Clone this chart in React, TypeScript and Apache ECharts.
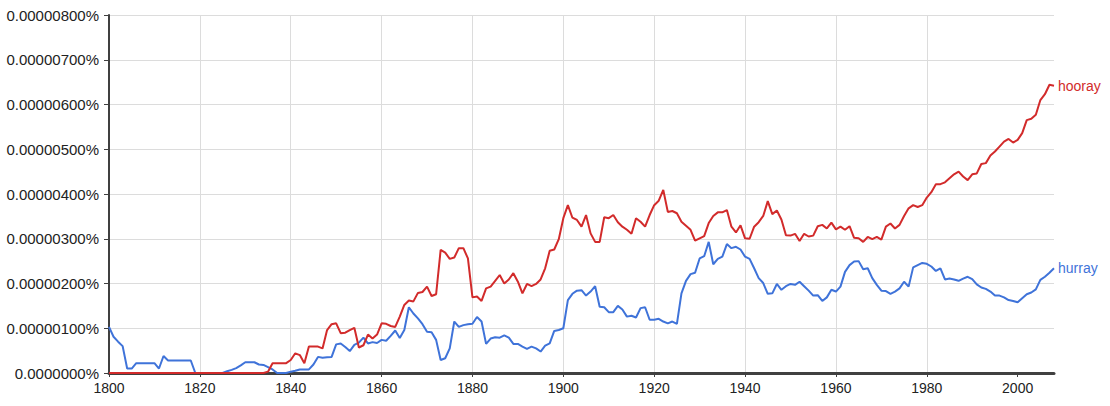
import React, { useEffect, useRef } from "react";
import * as echarts from "echarts";

// Google Ngram style: frequency in units of 0.000001 %
const FIRST_YEAR = 1800;
const LAST_YEAR = 2008;
const X_TICK_LABELS = [1800, 1820, 1840, 1860, 1880, 1900, 1920, 1940, 1960, 1980, 2000];
const SERIES_NAMES = ["hurray", "hooray"];

const hurray = [
  1.03, 0.81, 0.70, 0.60, 0.10, 0.10, 0.22, 0.22, 0.22, 0.22, // 1800
  0.22, 0.10, 0.38, 0.28, 0.28, 0.28, 0.28, 0.28, 0.28, 0.00, // 1810
  0.00, 0.00, 0.00, 0.00, 0.00, 0.00, 0.04, 0.07, 0.11, 0.17, // 1820
  0.24, 0.24, 0.24, 0.19, 0.18, 0.13, 0.08, 0.00, 0.00, 0.00, // 1830
  0.03, 0.05, 0.08, 0.08, 0.08, 0.19, 0.36, 0.34, 0.35, 0.36, // 1840
  0.64, 0.66, 0.58, 0.49, 0.63, 0.68, 0.79, 0.66, 0.69, 0.67, // 1850
  0.74, 0.72, 0.83, 0.95, 0.78, 0.96, 1.47, 1.33, 1.22, 1.09, // 1860
  0.92, 0.91, 0.74, 0.29, 0.33, 0.55, 1.15, 1.03, 1.07, 1.09, // 1870
  1.10, 1.25, 1.15, 0.65, 0.77, 0.80, 0.79, 0.84, 0.79, 0.65, // 1880
  0.65, 0.59, 0.54, 0.59, 0.55, 0.48, 0.61, 0.66, 0.94, 0.96, // 1890
  1.00, 1.63, 1.77, 1.84, 1.85, 1.73, 1.82, 1.94, 1.48, 1.47, // 1900
  1.36, 1.36, 1.50, 1.42, 1.26, 1.28, 1.24, 1.45, 1.47, 1.19, // 1910
  1.19, 1.21, 1.15, 1.11, 1.15, 1.10, 1.78, 2.06, 2.21, 2.24, // 1920
  2.56, 2.61, 2.93, 2.43, 2.55, 2.60, 2.88, 2.79, 2.82, 2.76, // 1930
  2.60, 2.55, 2.34, 2.12, 2.01, 1.77, 1.78, 1.99, 1.86, 1.94, // 1940
  1.99, 1.97, 2.04, 1.94, 1.84, 1.73, 1.74, 1.61, 1.69, 1.86, // 1950
  1.82, 1.93, 2.26, 2.41, 2.49, 2.50, 2.32, 2.34, 2.12, 1.97, // 1960
  1.84, 1.83, 1.77, 1.82, 1.89, 2.04, 1.93, 2.36, 2.41, 2.46, // 1970
  2.44, 2.38, 2.28, 2.34, 2.09, 2.11, 2.09, 2.06, 2.11, 2.15, // 1980
  2.10, 1.98, 1.91, 1.88, 1.82, 1.73, 1.73, 1.69, 1.63, 1.61, // 1990
  1.58, 1.67, 1.76, 1.80, 1.87, 2.08, 2.15, 2.24, 2.34,       // 2000
];

const hooray = [
  0, 0, 0, 0, 0, 0, 0, 0, 0, 0, // 1800
  0, 0, 0, 0, 0, 0, 0, 0, 0, 0, // 1810
  0, 0, 0, 0, 0, 0, 0, 0, 0, 0, // 1820
  0, 0, 0, 0, 0, 0.03, 0.22, 0.22, 0.22, 0.22, // 1830
  0.29, 0.44, 0.40, 0.22, 0.59, 0.59, 0.59, 0.55, 0.96, 1.09, // 1840
  1.11, 0.89, 0.90, 0.96, 1.01, 0.57, 0.62, 0.86, 0.77, 0.86, // 1850
  1.11, 1.10, 1.05, 1.03, 1.26, 1.52, 1.62, 1.60, 1.79, 1.81, // 1860
  1.93, 1.72, 1.76, 2.75, 2.69, 2.55, 2.58, 2.79, 2.79, 2.56, // 1870
  1.69, 1.71, 1.61, 1.89, 1.93, 2.06, 2.19, 2.00, 2.09, 2.23, // 1880
  2.04, 1.78, 1.99, 1.94, 1.99, 2.09, 2.34, 2.73, 2.76, 2.99, // 1890
  3.46, 3.75, 3.47, 3.42, 3.27, 3.53, 3.12, 2.93, 2.93, 3.48, // 1900
  3.46, 3.53, 3.37, 3.27, 3.20, 3.11, 3.46, 3.38, 3.27, 3.53, // 1910
  3.75, 3.85, 4.09, 3.60, 3.62, 3.57, 3.38, 3.29, 3.20, 2.96, // 1920
  3.01, 3.06, 3.35, 3.51, 3.59, 3.59, 3.64, 3.27, 3.14, 3.30, // 1930
  3.01, 3.00, 3.27, 3.37, 3.51, 3.84, 3.55, 3.63, 3.43, 3.08, // 1940
  3.07, 3.11, 2.95, 3.11, 3.05, 3.07, 3.28, 3.31, 3.23, 3.36, // 1950
  3.21, 3.27, 3.20, 3.28, 3.02, 3.01, 2.93, 3.04, 2.99, 3.04, // 1960
  2.98, 3.27, 3.34, 3.23, 3.31, 3.51, 3.68, 3.75, 3.71, 3.75, // 1970
  3.92, 4.04, 4.22, 4.22, 4.26, 4.35, 4.44, 4.50, 4.39, 4.31, // 1980
  4.44, 4.46, 4.67, 4.69, 4.86, 4.95, 5.06, 5.17, 5.23, 5.15, // 1990
  5.21, 5.36, 5.65, 5.68, 5.77, 6.10, 6.23, 6.44, 6.42,       // 2000
];

const COLORS = { hurray: "#3f73d9", hooray: "#d22b2b" };

function pairs(values: number[]) {
  return values.map((v, i) => [FIRST_YEAR + i, v]);
}

function yLabel(v: number) {
  if (v === 0) return "0.0000000%";
  return (v * 1e-6).toFixed(8) + "%";
}

export default function App() {
  const ref = useRef<HTMLDivElement>(null);
  useEffect(() => {
    if (!ref.current) return;
    const chart = echarts.init(ref.current, null, { renderer: "svg" });
    const font = "'Liberation Sans', Arial, sans-serif";
    const mk = (name: string, values: number[]) => ({
      name,
      type: "line",
      data: pairs(values),
      showSymbol: false,
      symbol: "none",
      lineStyle: { width: 2, color: (COLORS as any)[name] },
      itemStyle: { color: (COLORS as any)[name] },
      endLabel: {
        show: true,
        formatter: "{a}",
        color: (COLORS as any)[name],
        fontFamily: font,
        fontSize: 14,
        distance: 4,
      },
      emphasis: { disabled: true },
    });
    chart.setOption({
      animation: false,
      backgroundColor: "#ffffff",
      grid: { left: 109, right: 56, top: 15, bottom: 33, containLabel: false },
      xAxis: {
        type: "value",
        min: FIRST_YEAR,
        max: LAST_YEAR,
        interval: 20,
        axisLine: { show: true, onZero: false, lineStyle: { color: "#404040", width: 3 } },
        axisTick: {
          show: true,
          length: 4,
          customValues: X_TICK_LABELS,
          lineStyle: { color: "#404040", width: 1 },
        },
        axisLabel: {
          customValues: X_TICK_LABELS,
          color: "#222",
          fontFamily: font,
          fontSize: 14,
          margin: 8,
          formatter: (v: number) => String(v),
        },
        splitLine: {
          show: true,
          showMaxLine: false,
          showMinLine: false,
          lineStyle: { color: "#dcdcdc", width: 1 },
        },
      },
      yAxis: {
        type: "value",
        min: 0,
        max: 8,
        interval: 1,
        axisLine: { show: true, lineStyle: { color: "#404040", width: 2 } },
        axisTick: { show: true, length: 5, lineStyle: { color: "#404040", width: 1 } },
        axisLabel: {
          color: "#222",
          fontFamily: font,
          fontSize: 15,
          margin: 10,
          formatter: yLabel,
        },
        splitLine: { show: true, lineStyle: { color: "#dcdcdc", width: 1 } },
      },
      series: [mk(SERIES_NAMES[0], hurray), mk(SERIES_NAMES[1], hooray)],
    });
    return () => chart.dispose();
  }, []);
  return (
    <div
      ref={ref}
      style={{ position: "fixed", left: 0, top: 0, width: 1110, height: 406 }}
    />
  );
}
